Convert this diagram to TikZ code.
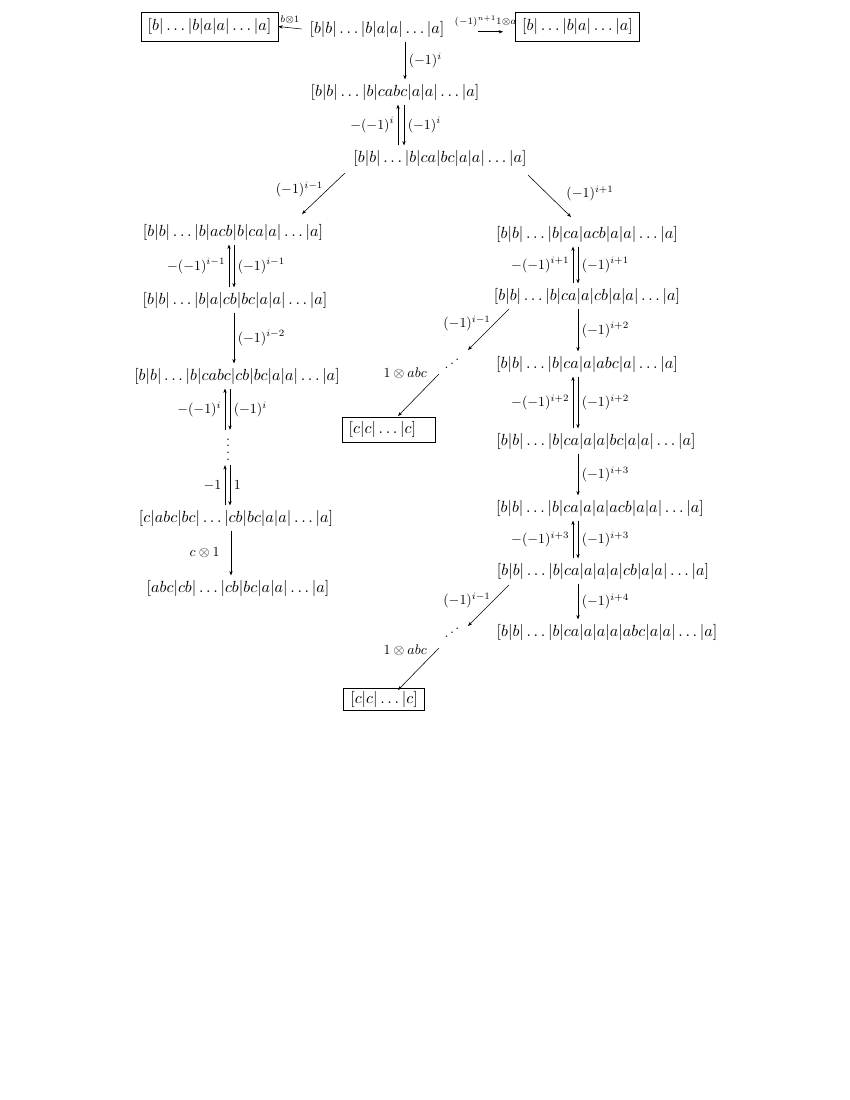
\documentclass[tikz,border=0pt]{standalone}
\usetikzlibrary{arrows.meta}
\newcommand{\myiddots}{\mathinner{\mkern1mu\raise1pt\vbox{\kern7pt\hbox{.}}\mkern2mu\raise4pt\hbox{.}\mkern2mu\raise7pt\hbox{.}\mkern1mu}}
\newcommand{\fourvdots}{\vbox{\baselineskip=5pt\lineskiplimit=0pt\hbox{.}\hbox{.}\hbox{.}\hbox{.}}}
\begin{document}
\begin{tikzpicture}[x=0.72pt,y=-0.72pt,
  every node/.style={inner sep=0pt},
  term/.style={scale=1.16,inner xsep=1.7pt,inner ysep=2.6pt},
  boxed/.style={draw,line width=0.45pt,scale=1.16,inner xsep=4.1pt,inner ysep=1.9pt},
  arr/.style={-{Stealth[length=3.2pt,width=2.4pt]},line width=0.4pt},
  lr/.style={right,inner sep=2.5pt},
  ll/.style={left,inner sep=2.5pt}]
\useasboundingbox (0,0) rectangle (850,1100);
% top row
\node[term] (T) at (377,29) {$[b|b|\dots|b|a|a|\dots|a]$};
\node[boxed,minimum height=18pt] (BL) at (209.5,26.5) {$[b|\dots|b|a|a|\dots|a]$};
\node[boxed,minimum height=18pt] (BR) at (577.5,26.5) {$[b|\dots|b|a|\dots|a]$};
\node[term] (N2) at (395,92) {$[b|b|\dots|b|cabc|a|a|\dots|a]$};
\node[term] (N3) at (440,158) {$[b|b|\dots|b|ca|bc|a|a|\dots|a]$};
% left column
\node[term] (L1) at (233,232) {$[b|b|\dots|b|acb|b|ca|a|\dots|a]$};
\node[term] (L2) at (235,300) {$[b|b|\dots|b|a|cb|bc|a|a|\dots|a]$};
\node[term] (L3) at (237,376) {$[b|b|\dots|b|cabc|cb|bc|a|a|\dots|a]$};
\node[minimum height=25pt] (VD) at (228,447.5) {\raisebox{-1.6pt}[\height][\depth]{\fourvdots}};
\node[term] (L4) at (236,518) {$[c|abc|bc|\dots|cb|bc|a|a|\dots|a]$};
\node[term] (L5) at (238,588) {$[abc|cb|\dots|cb|bc|a|a|\dots|a]$};
% right column
\node[term] (R1) at (587,234) {$[b|b|\dots|b|ca|acb|a|a|\dots|a]$};
\node[term] (R2) at (587,296) {$[b|b|\dots|b|ca|a|cb|a|a|\dots|a]$};
\node[term] (R3) at (587,364) {$[b|b|\dots|b|ca|a|abc|a|\dots|a]$};
\node[term] (R4) at (596,441) {$[b|b|\dots|b|ca|a|a|bc|a|a|\dots|a]$};
\node[term] (R5) at (600,508) {$[b|b|\dots|b|ca|a|a|acb|a|a|\dots|a]$};
\node[term] (R6) at (603,571) {$[b|b|\dots|b|ca|a|a|a|cb|a|a|\dots|a]$};
\node[term] (R7) at (607,632) {$[b|b|\dots|b|ca|a|a|a|abc|a|a|\dots|a]$};
% middle
\node (D1) at (452,364) {$\myiddots$};
\node[boxed,inner ysep=2.8pt] (C1) at (388.5,429.5) {\makebox[49.5pt][l]{$[c|c|\dots|c]$}};
\node (D2) at (452,633) {$\myiddots$};
\node[boxed] (C2) at (384,699) {$[c|c|\dots|c]$};
% coordinates for diagonal arrows
\coordinate (a1) at (345,173); \coordinate (a2) at (302,214);
\coordinate (b1) at (528,175); \coordinate (b2) at (571,217);
\coordinate (c1) at (509,309); \coordinate (c2) at (468,350);
\coordinate (d1) at (439,374); \coordinate (d2) at (398,416);
\coordinate (e1) at (509,585); \coordinate (e2) at (468,626);
\coordinate (f1) at (439,648); \coordinate (f2) at (398,690);
% top horizontal arrows
\draw[arr] (T.west) ++(-3.5pt,0) -- (BL.east) node[midway,above,inner sep=2.5pt] {$\scriptstyle b\otimes 1$};
\draw[arr] (T.east) ++(22pt,-2pt) -- ++(18pt,0) coordinate (h2) node[pos=0.3,above,inner sep=3pt] {$\scriptstyle (-1)^{n+1}1\otimes a$};
% vertical top
\draw[arr] (T.south -| 405,0) -- (N2.north -| 405,0) node[midway,lr] {$(-1)^i$};
\draw[arr] (N3.north -| 398,0) -- (N2.south -| 398,0) node[midway,ll] {$-(-1)^i$};
\draw[arr] (N2.south -| 404,0) -- (N3.north -| 404,0) node[midway,lr] {$(-1)^i$};
% diagonals from N3
\draw[arr] (a1) -- (a2) node[midway,anchor=east,yshift=3pt] {$(-1)^{i-1}$};
\draw[arr] (b1) -- (b2) node[midway,anchor=west,xshift=12pt,yshift=2pt] {$(-1)^{i+1}$};
% left column arrows
\draw[arr] (L2.north -| 229,0) -- (L1.south -| 229,0) node[midway,ll] {$-(-1)^{i-1}$};
\draw[arr] (L1.south -| 234,0) -- (L2.north -| 234,0) node[midway,lr] {$(-1)^{i-1}$};
\draw[arr] (L2.south -| 234,0) -- (L3.north -| 234,0) node[midway,lr] {$(-1)^{i-2}$};
\draw[arr] (VD.north -| 225,0) -- (L3.south -| 225,0) node[midway,ll] {$-(-1)^i$};
\draw[arr] (L3.south -| 230,0) -- (VD.north -| 230,0) node[midway,lr] {$(-1)^i$};
\draw[arr] (L4.north -| 225,0) -- (VD.south -| 225,0) node[midway,ll] {$-1$};
\draw[arr] (VD.south -| 230,0) -- (L4.north -| 230,0) node[midway,lr] {$1$};
\draw[arr] (L4.south -| 231,0) -- (L5.north -| 231,0) node[midway,ll,inner sep=8pt] {$c\otimes 1$};
% right column arrows
\draw[arr] (R2.north -| 573,0) -- (R1.south -| 573,0) node[midway,ll] {$-(-1)^{i+1}$};
\draw[arr] (R1.south -| 578,0) -- (R2.north -| 578,0) node[midway,lr] {$(-1)^{i+1}$};
\draw[arr] (R2.south -| 578,0) -- (R3.north -| 578,0) node[midway,lr] {$(-1)^{i+2}$};
\draw[arr] (R4.north -| 573,0) -- (R3.south -| 573,0) node[midway,ll] {$-(-1)^{i+2}$};
\draw[arr] (R3.south -| 578,0) -- (R4.north -| 578,0) node[midway,lr] {$(-1)^{i+2}$};
\draw[arr] (R4.south -| 578,0) -- (R5.north -| 578,0) node[midway,lr] {$(-1)^{i+3}$};
\draw[arr] (R6.north -| 573,0) -- (R5.south -| 573,0) node[midway,ll] {$-(-1)^{i+3}$};
\draw[arr] (R5.south -| 578,0) -- (R6.north -| 578,0) node[midway,lr] {$(-1)^{i+3}$};
\draw[arr] (R6.south -| 578,0) -- (R7.north -| 578,0) node[midway,lr] {$(-1)^{i+4}$};
% middle diagonals
\draw[arr] (c1) -- (c2) node[midway,anchor=east,xshift=1.8pt,yshift=4.2pt] {$(-1)^{i-1}$};
\draw[arr] (d1) -- (d2) node[pos=0,anchor=east,xshift=-8.6pt,yshift=0.7pt] {$1\otimes abc$};
\draw[arr] (e1) -- (e2) node[midway,anchor=east,xshift=1.8pt,yshift=3.5pt] {$(-1)^{i-1}$};
\draw[arr] (f1) -- (f2) node[pos=0,anchor=east,xshift=-8.6pt,yshift=-1.4pt] {$1\otimes abc$};
\end{tikzpicture}
\end{document}
